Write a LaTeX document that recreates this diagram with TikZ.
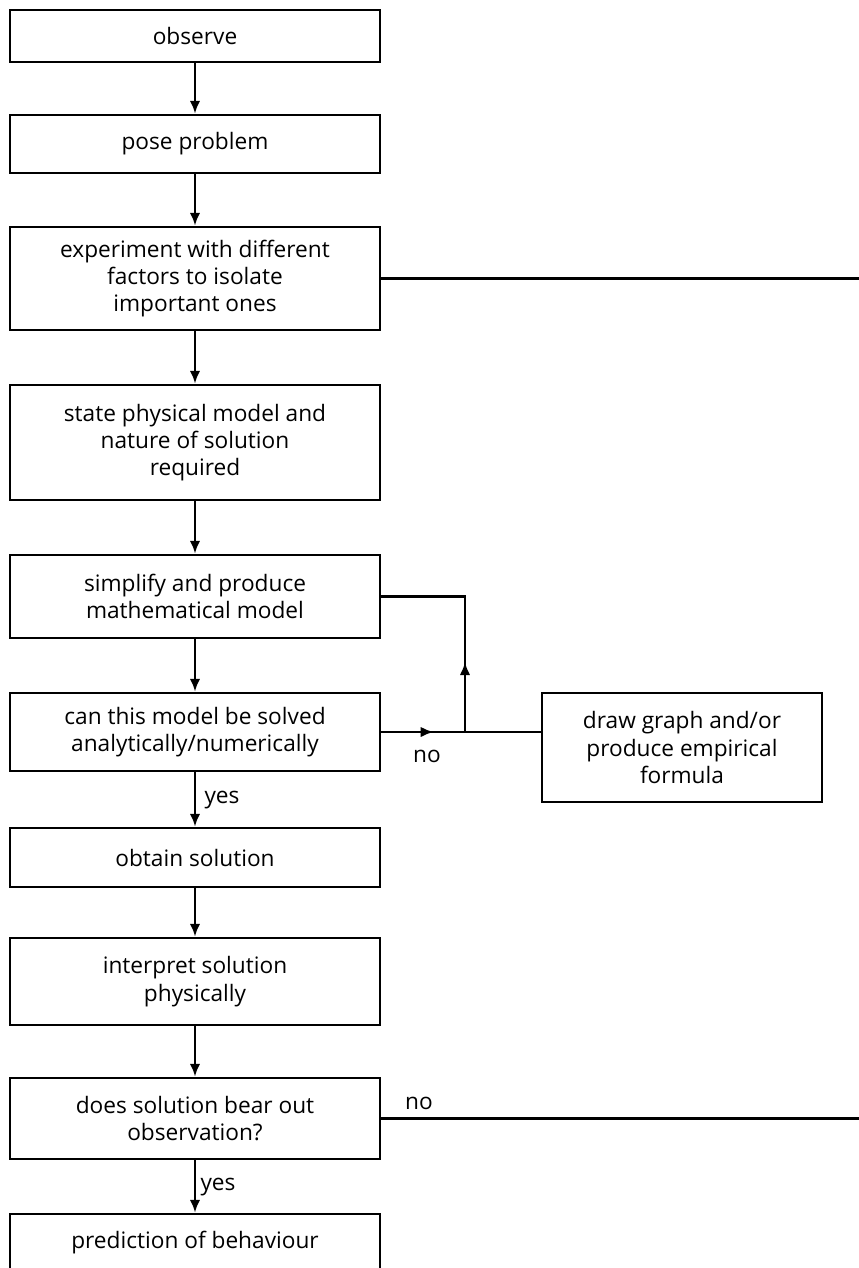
\documentclass[tikz,border=0pt]{standalone}
\usepackage{fontspec}
\setsansfont{Open Sans}
\usetikzlibrary{arrows.meta,decorations.markings}

\begin{document}
\begin{tikzpicture}[font=\sffamily\fontsize{12.9}{15.5}\selectfont, line width=1.4pt,
  box/.style={draw, align=center, minimum width=7.4cm, inner sep=2pt},
  tip/.style={-{Latex[length=2.6mm,width=2.1mm]}},
  midtip/.style={decoration={markings, mark=at position #1 with {\arrow{Latex[length=2.6mm,width=2.1mm]}}}, postaction={decorate}}]
  \useasboundingbox (0,0) rectangle (17.18,-25.36);
  \coordinate (edge) at (17.18,0);
  \node[box, minimum height=1.04cm] (obs)  at (3.9,-0.72)  {observe};
  \node[box, minimum height=1.16cm] (pose) at (3.9,-2.88)  {pose problem};
  \node[box, minimum height=2.06cm] (exp)  at (3.9,-5.57)  {experiment with different\\factors to isolate\\important ones};
  \node[box, minimum height=2.3cm]  (phys) at (3.9,-8.85)  {state physical model and\\nature of solution\\required};
  \node[box, minimum height=1.66cm] (simp) at (3.9,-11.93) {simplify and produce\\mathematical model};
  \node[box, minimum height=1.56cm] (can)  at (3.9,-14.64) {can this model be solved\\analytically/numerically};
  \node[box, minimum height=2.18cm, minimum width=5.6cm] (graph) at (13.64,-14.95) {draw graph and/or\\produce empirical\\formula};
  \node[box, minimum height=1.18cm] (sol)  at (3.9,-17.15) {obtain solution};
  \node[box, minimum height=1.74cm] (intp) at (3.9,-19.63) {interpret solution\\physically};
  \node[box, minimum height=1.62cm] (bear) at (3.9,-22.37) {does solution bear out\\observation?};
  \node[box, minimum height=1.16cm] (pred) at (3.9,-24.86) {prediction of behaviour};
  % main chain
  \foreach \a/\b in {obs/pose, pose/exp, exp/phys, phys/simp, simp/can, can/sol, sol/intp, intp/bear, bear/pred}
    \draw[tip] (\a.south) -- (\b.north);
  \node (yes1) at (4.44,-16.0)  {yes};
  \node (yes2) at (4.36,-23.74) {yes};
  % branches off to the right
  \draw (exp.east) -- (exp.east -| edge);
  \draw (bear.east) -- (bear.east -| edge);
  \node (no2) at (8.38,-22.06) {no};
  \coordinate (jn) at (9.3,-14.64);
  \draw[midtip=1.05cm] (can.east) -- (can.east -| graph.west);
  \draw[midtip=1.4cm] (jn) -- (jn |- simp.east) -- (simp.east);
  \node (no1) at (8.54,-15.12) {no};
\end{tikzpicture}
\end{document}
